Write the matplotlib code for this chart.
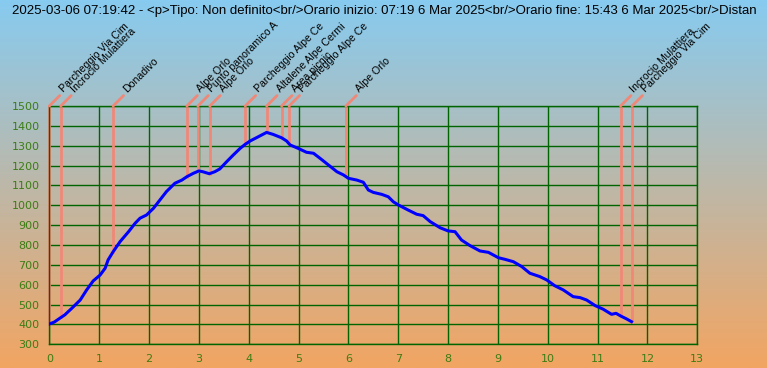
import numpy as np
import matplotlib
matplotlib.use("Agg")
import matplotlib.pyplot as plt

# title as visible in the picture (cut at the right edge)
title = ("2025-03-06 07:19:42 - <p>Tipo: Non definito<br/>Orario inizio: 07:19 6 Mar 2025"
         "<br/>Orario fine: 15:43 6 Mar 2025<br/>Distan")

# elevation profile (km, m)
dist_km = [0.0, 0.1, 0.21, 0.31, 0.45, 0.62, 0.75, 0.88, 1.02, 1.12, 1.18, 1.28, 1.42,
           1.59, 1.72, 1.82, 1.95, 2.09, 2.22, 2.35, 2.52, 2.66, 2.76, 2.89, 3.0,
           3.08, 3.21, 3.32, 3.42, 3.56, 3.69, 3.83, 3.93, 4.03, 4.13, 4.23, 4.36,
           4.49, 4.66, 4.76, 4.83, 4.99, 5.16, 5.30, 5.43, 5.60, 5.77, 5.90, 6.0,
           6.17, 6.30, 6.40, 6.50, 6.67, 6.80, 6.90, 7.0, 7.20, 7.37, 7.50, 7.64,
           7.84, 8.0, 8.14, 8.27, 8.44, 8.64, 8.81, 9.01, 9.14, 9.31, 9.48, 9.64,
           9.84, 9.98, 10.14, 10.31, 10.51, 10.65, 10.78, 10.95, 11.11, 11.28,
           11.37, 11.46, 11.58, 11.68]
elev_m = [402, 412, 431, 448, 481, 523, 574, 619, 649, 683, 725, 766, 817,
          867, 909, 935, 951, 985, 1027, 1069, 1111, 1127, 1144, 1161, 1173,
          1169, 1159, 1169, 1183, 1220, 1253, 1287, 1307, 1324, 1337, 1350, 1367,
          1357, 1340, 1324, 1304, 1287, 1267, 1262, 1237, 1203, 1169, 1153, 1136,
          1127, 1116, 1077, 1065, 1055, 1043, 1018, 1002, 976, 955, 948, 918,
          887, 871, 867, 825, 797, 770, 763, 736, 728, 716, 691, 658,
          641, 624, 595, 574, 540, 535, 523, 495, 477, 451,
          456, 443, 428, 414]

# waypoints
wp_names = ["Parcheggio Via Cim", "Incrocio Mulattiera", "Donadivo", "Alpe Orlo",
            "Punto panoramico A", "Alpe Orlo", "Parcheggio Alpe Ce", "Altalene Alpe Cermi",
            "Area picnic", "Parcheggio Alpe Ce", "Alpe Orlo", "Incrocio Mulattiera",
            "Parcheggio Via Cim"]
wp_km = [0.0, 0.23, 1.28, 2.76, 2.98, 3.22, 3.93, 4.36, 4.66, 4.81, 5.95, 11.46, 11.69]
wp_elev = [402, 435, 766, 1144, 1172, 1160, 1307, 1367, 1340, 1310, 1145, 443, 414]

x_ticks = list(range(0, 14))
y_ticks = list(range(300, 1600, 100))

W, H = 767, 368
fig = plt.figure(figsize=(W / 100, H / 100), dpi=100)

# gradient background
bg = fig.add_axes([0, 0, 1, 1], zorder=-10)
top = np.array([135, 203, 240]) / 255
bot = np.array([242, 165, 98]) / 255
t = np.linspace(0, 1, 256)[:, None]
grad = (top * (1 - t) + bot * t)[:, None, :]
bg.imshow(grad, aspect="auto", extent=[0, 1, 0, 1])
bg.axis("off")

fig.text(12 / W, 1 - 11 / H, title, fontsize=9.55, family="Liberation Sans",
         color="black", va="center", ha="left")

ax = fig.add_axes([49.3 / W, (H - 344.3) / H, 648 / W, 238.3 / H])
ax.set_facecolor("none")
ax.set_xlim(0, 13)
ax.set_ylim(300, 1500)
ax.set_xticks(x_ticks)
ax.set_yticks(y_ticks)
ax.grid(True, color="#006400", lw=1)
for s in ax.spines.values():
    s.set_color("#006400")
    s.set_linewidth(1)
ax.tick_params(length=0, colors="#3c7d14", labelsize=8, pad=7)
for lab in ax.get_xticklabels() + ax.get_yticklabels():
    lab.set_family("DejaVu Sans")

salmon = "#f08878"
for name, km, el in zip(wp_names, wp_km, wp_elev):
    ax.plot([km, km], [el, 1500], color=salmon, lw=2, zorder=2, clip_on=False)
    ax.annotate("", xy=(km, 1500), xycoords="data", xytext=(7.5, 7.5),
                textcoords="offset points", annotation_clip=False,
                arrowprops=dict(arrowstyle="-", color=salmon, lw=2,
                                shrinkA=0, shrinkB=0))
    ax.annotate(name, xy=(km, 1500), xycoords="data", xytext=(10, 9.5),
                textcoords="offset points", rotation=45, rotation_mode="anchor",
                ha="left", va="baseline", fontsize=7.6, family="Liberation Sans",
                annotation_clip=False)

ax.plot(dist_km, elev_m, color="#0000ff", lw=2.2, zorder=3)

fig.savefig("out.png", dpi=100)
